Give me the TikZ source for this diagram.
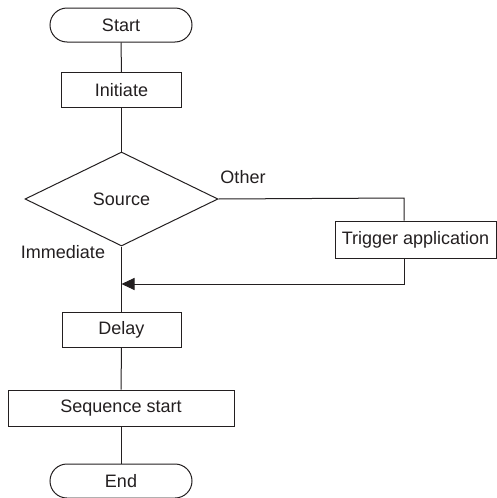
\documentclass[tikz,border=0pt]{standalone}
\usepackage{fontspec}
\setmainfont{Liberation Sans}
\usetikzlibrary{positioning, arrows.meta, shapes.geometric, calc}
\definecolor{inkline}{HTML}{231F20}

\begin{document}
\begin{tikzpicture}[
    x=1pt, y=-1pt,
    font=\fontsize{18}{20}\selectfont,
    terminal/.style={rectangle, draw=inkline, line width=1pt, rounded corners=17pt, minimum width=142pt, minimum height=34pt, inner sep=0pt, text=inkline},
    stepbox/.style={rectangle, draw=inkline, line width=1pt, minimum height=35pt, inner sep=0pt, text=inkline},
    decision/.style={diamond, draw=inkline, line width=1pt, aspect=2, minimum width=193pt, minimum height=94pt, inner sep=0pt, text=inkline},
    label/.style={inner sep=0pt, text=inkline},
    flow/.style={draw=inkline, line width=1pt},
    mergearrow/.style={flow, -{Triangle[length=13pt, width=12pt]}}
]
\useasboundingbox (0,0) rectangle (496,498);

% ==================== NODES ====================
\node[terminal] (start) at (121,25) {Start};
\node[stepbox, minimum width=120pt] (initiate) at (121.5,90) {Initiate};
\node[decision] (source) at (121.5,199) {Source};
\node[stepbox, minimum width=161pt, minimum height=37pt] (trigger) at (415.5,239.5) {Trigger application};
\node[stepbox, minimum width=119pt] (delay) at (121.5,329.5) {Delay};
\node[stepbox, minimum width=226pt, minimum height=36pt] (seqstart) at (121,408) {Sequence start};
\node[terminal] (end) at (121,481) {End};

% ==================== BRANCH LABELS ====================
\node[label] (other) at (243,177) {Other};
\node[label] (immediate) at (63,252) {Immediate};

% ==================== HELPER POINTS ====================
\coordinate (bend) at (404,198);
\coordinate (merge) at (121.5,284);

% ==================== MAIN FLOW ====================
\draw[flow] (start.south) -- (initiate.north);
\draw[flow] (initiate.south) -- (source.north);
\draw[flow] (source.south) -- (delay.north);
\draw[flow] (delay.south) -- (seqstart.north);
\draw[flow] (seqstart.south) -- (end.north);

% ==================== OTHER BRANCH ====================
\draw[flow] (source.east) -- (bend) -- (bend |- trigger.north);
\draw[mergearrow] (bend |- trigger.south) |- (merge);

\end{tikzpicture}
\end{document}
